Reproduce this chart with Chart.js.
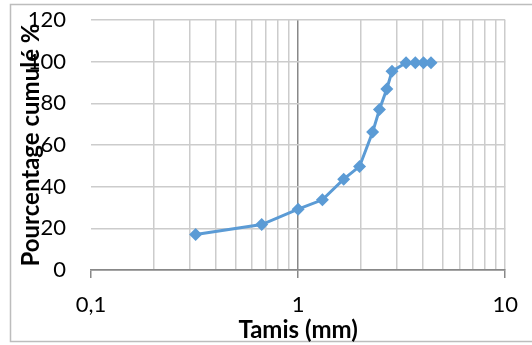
<!DOCTYPE html>
<html>
<head>
<meta charset="utf-8">
<script src="https://cdn.jsdelivr.net/npm/chart.js@4/dist/chart.umd.min.js"></script>
<style>
  html, body { margin: 0; padding: 0; background: #ffffff; }
  canvas { display: block; }
</style>
</head>
<body>
<canvas id="chart" width="532" height="345"></canvas>
<script>
// Sieve sizes (mm) and cumulative passing (%)
const sieveSizes = [0.32, 0.667, 1.0, 1.31, 1.66, 1.98, 2.29, 2.47, 2.68, 2.84, 3.32, 3.68, 4.03, 4.38];
const cumulativePassing = [17, 21.8, 29.2, 33.7, 43.6, 49.7, 66.2, 77.0, 86.9, 95.4, 99.5, 99.5, 99.5, 99.5];

// Log-axis ticks: decades get a label, intermediate values only a grid line
const xTickValues = [0.1, 0.2, 0.3, 0.4, 0.5, 0.6, 0.7, 0.8, 0.9, 1, 2, 3, 4, 5, 6, 7, 8, 9, 10];
const xDecades = [0.1, 1, 10];
const xTickLabels = ['0,1', '1', '10'];

const FONT = 'Lato, "Liberation Sans", sans-serif';
const LINE_BLUE = '#5B9BD5';
const GRID = '#cccccc';
const AXIS = '#888888';
const NONE = 'rgba(0,0,0,0)';

const isDecade = v => xDecades.some(d => Math.abs(d - v) < 1e-9);

const frame = {
  id: 'frame',
  beforeDraw(chart) {
    const ctx = chart.ctx;
    ctx.save();
    ctx.fillStyle = '#ffffff';
    ctx.fillRect(0, 0, chart.width, chart.height);
    ctx.strokeStyle = '#bdbdbd';
    ctx.lineWidth = 1.5;
    ctx.strokeRect(10.5, 4.5, 530, 337);
    ctx.restore();
  }
};

new Chart(document.getElementById('chart'), {
  type: 'scatter',
  data: {
    datasets: [{
      data: sieveSizes.map((x, i) => ({ x: x, y: cumulativePassing[i] })),
      showLine: true,
      borderColor: LINE_BLUE,
      backgroundColor: LINE_BLUE,
      borderWidth: 3,
      pointStyle: 'rectRot',
      pointRadius: 6.5,
      pointBorderWidth: 0,
      tension: 0
    }]
  },
  options: {
    responsive: false,
    animation: false,
    events: [],
    layout: { padding: { left: 0, top: 20, right: 26, bottom: 0 } },
    plugins: { legend: { display: false }, tooltip: { enabled: false } },
    scales: {
      x: {
        type: 'logarithmic',
        min: 0.1,
        max: 10,
        afterBuildTicks(scale) {
          scale.ticks = xTickValues.map(v => ({ value: v, major: isDecade(v) }));
        },
        afterFit(scale) { scale.height = 75; },
        border: { display: true, color: AXIS, width: 1.5 },
        grid: {
          color: ctx => {
            const v = ctx.tick.value;
            if (Math.abs(v - 0.1) < 1e-9) return NONE;
            return Math.abs(v - 1) < 1e-9 ? AXIS : GRID;
          },
          lineWidth: 1.5,
          drawTicks: true,
          tickLength: 8,
          tickColor: ctx => isDecade(ctx.tick.value) ? AXIS : NONE
        },
        ticks: {
          autoSkip: false,
          maxRotation: 0,
          padding: 14,
          color: '#000000',
          font: { family: FONT, size: 22 },
          callback(value) {
            const i = xDecades.findIndex(d => Math.abs(d - value) < 1e-9);
            return i >= 0 ? xTickLabels[i] : '';
          }
        },
        title: {
          display: true,
          text: 'Tamis (mm)',
          color: '#000000',
          font: { family: FONT, size: 24, weight: 'bold' },
          padding: { top: 0, bottom: 0 }
        }
      },
      y: {
        min: 0,
        max: 120,
        afterFit(scale) { scale.width = 91; },
        border: { display: false },
        grid: {
          color: ctx => ctx.tick.value === 0 ? AXIS : GRID,
          lineWidth: 1.5,
          drawTicks: true,
          tickLength: 25,
          tickColor: NONE
        },
        ticks: {
          stepSize: 20,
          padding: 0,
          color: '#000000',
          font: { family: FONT, size: 22 }
        },
        title: {
          display: true,
          text: 'Pourcentage cumulé %',
          color: '#000000',
          font: { family: FONT, size: 24, weight: 'bold' },
          padding: { top: 17, bottom: 0 }
        }
      }
    }
  },
  plugins: [frame]
});
</script>
</body>
</html>
